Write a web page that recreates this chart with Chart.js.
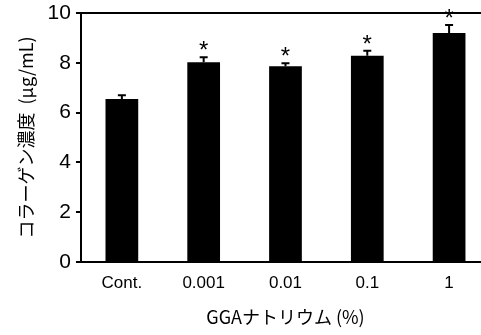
<!DOCTYPE html>
<html>
<head>
<meta charset="utf-8">
<script src="https://cdn.jsdelivr.net/npm/chart.js@4/dist/chart.umd.min.js"></script>
<style>
  html, body { margin: 0; padding: 0; background: #fff; overflow: hidden; }
  #wrap { width: 490px; height: 335px; }
</style>
</head>
<body>
<div id="wrap"><canvas id="collagenChart"></canvas></div>
<script>
// データ
const categories = ['Cont.', '0.001', '0.01', '0.1', '1'];
const collagen = [6.55, 8.02, 7.86, 8.28, 9.2];
const errors = [0.15, 0.2, 0.12, 0.2, 0.32];
const significant = [false, true, true, true, true];
const yTicks = [0, 2, 4, 6, 8, 10];

const latin = '"Liberation Sans", Arial, sans-serif';
const jp = '"Noto Sans CJK JP", "Noto Sans", sans-serif';

// エラーバーと * を描く
const errorBars = {
  id: 'errorBars',
  afterDatasetsDraw(chart) {
    const ctx = chart.ctx;
    const meta = chart.getDatasetMeta(0);
    const y = chart.scales.y;
    ctx.save();
    ctx.strokeStyle = '#000';
    ctx.fillStyle = '#000';
    ctx.lineWidth = 2;
    meta.data.forEach((bar, i) => {
      const top = y.getPixelForValue(collagen[i] + errors[i]);
      const base = y.getPixelForValue(collagen[i]);
      ctx.beginPath();
      ctx.moveTo(bar.x, base);
      ctx.lineTo(bar.x, top);
      ctx.moveTo(bar.x - 4, top);
      ctx.lineTo(bar.x + 4, top);
      ctx.stroke();
      if (significant[i]) {
        ctx.font = '24px ' + latin;
        ctx.textAlign = 'center';
        ctx.textBaseline = 'alphabetic';
        ctx.fillText('*', bar.x, top - 13 + 14);
      }
    });
    ctx.restore();
  }
};

new Chart(document.getElementById('collagenChart'), {
  type: 'bar',
  data: {
    labels: categories,
    datasets: [{
      data: collagen,
      backgroundColor: '#000',
      borderWidth: 0,
      categoryPercentage: 1,
      barPercentage: 0.4
    }]
  },
  options: {
    responsive: true,
    maintainAspectRatio: false,
    animation: false,
    layout: { padding: { top: 5, right: 0, bottom: 7, left: 15 } },
    plugins: { legend: { display: false }, tooltip: { enabled: false } },
    scales: {
      y: {
        min: 0,
        max: 10,
        afterBuildTicks: (axis) => { axis.ticks = yTicks.map(v => ({ value: v })); },
        // 「10」が上端ぎりぎりに来るように余白を消す
        afterFit: (axis) => { axis.paddingTop = 0; axis.paddingBottom = 0; },
        ticks: { color: '#000', font: { family: latin, size: 21 }, padding: 5 },
        grid: { display: true, drawOnChartArea: false, drawTicks: true, tickLength: 5, color: '#000', lineWidth: 2 },
        border: { display: true, color: '#000', width: 2 },
        title: {
          display: true,
          text: 'コラーゲン濃度  (μg/mL)',
          color: '#000',
          font: { family: jp, size: 18 },
          padding: { top: 0, bottom: 6 }
        }
      },
      x: {
        ticks: { color: '#000', font: { family: latin, size: 17 }, padding: 3 },
        grid: { display: false },
        border: { display: true, color: '#000', width: 2 },
        title: {
          display: true,
          text: 'GGAナトリウム (%)',
          color: '#000',
          font: { family: jp, size: 18 },
          padding: { top: 10, bottom: 0 }
        }
      },
      x2: {
        type: 'linear',
        position: 'top',
        axis: 'x',
        ticks: { display: false },
        grid: { display: false },
        border: { display: true, color: '#000', width: 2 }
      }
    }
  },
  plugins: [errorBars]
});
</script>
</body>
</html>
